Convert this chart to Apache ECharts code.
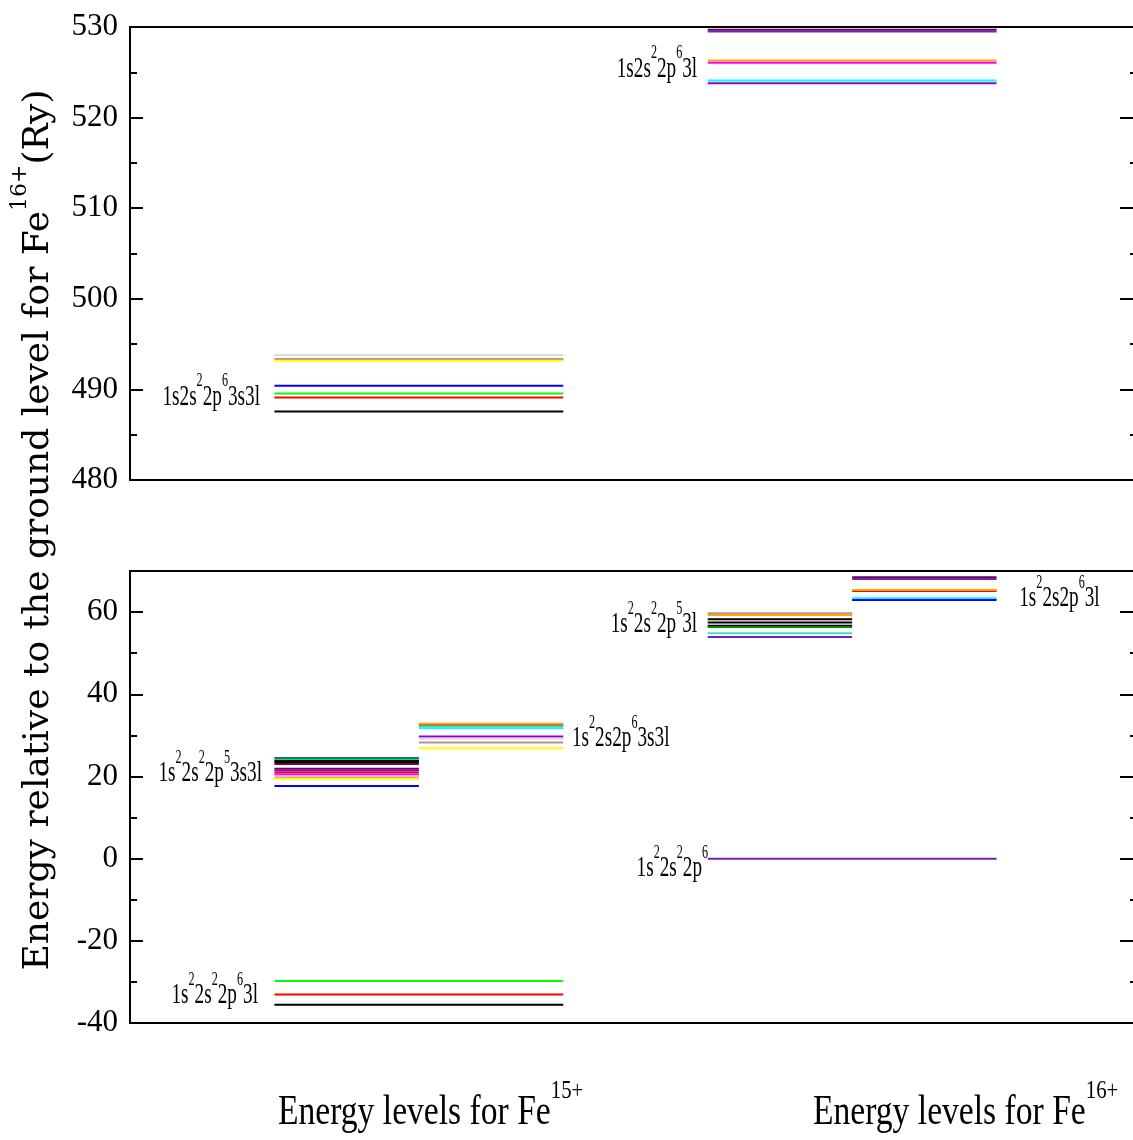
<!DOCTYPE html>
<html><head><meta charset="utf-8">
<script src="https://cdn.jsdelivr.net/npm/echarts@6/dist/echarts.min.js"></script>
<style>html,body{margin:0;padding:0;background:#fff;overflow:hidden}#chart{width:1160px;height:1140px}</style>
</head><body><div id="chart"></div>
<script>
// ---------------- DATA (energies in Ry, relative to Fe16+ ground level) ----------------
// Fe15+ configurations
const fe15_1s2s2_2p6_3s3l = [493.8, 493.35, 493.15, 490.4, 489.55, 489.1, 487.55];
const fe15_1s2_2s2_2p5_3s3l = [24.4, 24.1, 23.75, 23.5, 23.05, 21.9, 21.45, 20.95, 20.5, 20.0, 19.7, 19.45, 17.7];
const fe15_1s2_2s_2p6_3s3l = [32.55, 32.85, 32.15, 31.8, 29.7, 29.15, 28.25, 26.85];
const fe15_1s2_2s2_2p6_3l = [-29.75, -33.05, -35.55];
// Fe16+ configurations
const fe16_1s2s2_2p6_3l = [529.7, 529.5, 526.3, 526.05, 524.1, 523.8];
const fe16_1s2_2s2_2p5_3l = [59.7, 59.3, 58.25, 57.45, 56.65, 56.35, 54.85, 53.95];
const fe16_1s2_2s_2p6_3l = [68.45, 68.05, 65.15, 65.35, 63.35, 62.95];
const fe16_1s2_2s2_2p6 = [0];

// configuration labels
const labelTexts = [
  '{b|1s2s}{s|2}{b|2p}{s|6}{b|3s3l}',
  '{b|1s}{s|2}{b|2s}{s|2}{b|2p}{s|5}{b|3s3l}',
  '{b|1s}{s|2}{b|2s2p}{s|6}{b|3s3l}',
  '{b|1s}{s|2}{b|2s}{s|2}{b|2p}{s|6}{b|3l}',
  '{b|1s2s}{s|2}{b|2p}{s|6}{b|3l}',
  '{b|1s}{s|2}{b|2s}{s|2}{b|2p}{s|5}{b|3l}',
  '{b|1s}{s|2}{b|2s2p}{s|6}{b|3l}',
  '{b|1s}{s|2}{b|2s}{s|2}{b|2p}{s|6}'
];
const labelEnergies = [489.2, 20.8, 29.3, -33.2, 525.4, 57.0, 63.3, -2.3];

// axis ticks
const topTicks = {min: 480, max: 530, interval: 10, minor: 5};
const bottomTicks = {min: -40, max: 70, interval: 20, minor: 10};

const yTitle = '{b|Energy relative to the ground level for Fe}{s|16+}{b|(Ry)}';
const xTitles = ['{b|Energy levels for Fe}{s|15+}', '{b|Energy levels for Fe}{s|16+}'];

// ---------------- STYLE / LAYOUT ----------------
const G = {black:'#000000', red:'#ff0000', green:'#00ff00', blue:'#0000ff', yellow:'#ffff00',
  brown:'#bc8f8f', grey:'#dcdcdc', violet:'#9400d3', cyan:'#00ffff', magenta:'#ff00ff',
  orange:'#ffa500', indigo:'#7221bc', maroon:'#670748', turquoise:'#40e0d0', green4:'#008b00'};

// x-axis spans (column layout): Fe15+ column 1..3, Fe16+ column 4..6
const groups = [
  {panel:0, span:[1,3], e:fe15_1s2s2_2p6_3s3l, c:['grey','brown','yellow','blue','green','red','black']},
  {panel:1, span:[1,2], e:fe15_1s2_2s2_2p5_3s3l, c:['blue','green','black','black','maroon','maroon','violet','red','magenta','grey','brown','yellow','blue']},
  {panel:1, span:[2,3], e:fe15_1s2_2s_2p6_3s3l, c:['red','orange','turquoise','cyan','violet','grey','brown','yellow']},
  {panel:1, span:[1,3], e:fe15_1s2_2s2_2p6_3l, c:['green','red','black']},
  {panel:0, span:[4,6], e:fe16_1s2s2_2p6_3l, c:['maroon','indigo','orange','magenta','cyan','violet']},
  {panel:1, span:[4,5], e:fe16_1s2_2s2_2p5_3l, c:['brown','orange','black','black','black','green4','turquoise','indigo']},
  {panel:1, span:[5,6], e:fe16_1s2_2s_2p6_3l, c:['maroon','indigo','red','orange','cyan','blue']},
  {panel:1, span:[4,6], e:fe16_1s2_2s2_2p6, c:['indigo']}
];
// label anchor x (axis units), alignment, panel
const labelLayout = [
  {x:0.90, align:'right', panel:0},
  {x:0.914, align:'right', panel:1},
  {x:3.06, align:'left', panel:1},
  {x:0.886, align:'right', panel:1},
  {x:3.927, align:'right', panel:0},
  {x:3.927, align:'right', panel:1},
  {x:6.157, align:'left', panel:1},
  {x:4.003, align:'right', panel:1}
];

function buildLevels(panel){
  const items = [], cols = [];
  groups.filter(g => g.panel === panel).forEach(g => {
    g.e.forEach((v, i) => { items.push([g.span[0], g.span[1], v]); cols.push(G[g.c[i]]); });
  });
  return {items, cols};
}
function buildLabels(panel){
  const items = [], meta = [];
  labelLayout.forEach((l, i) => {
    if (l.panel === panel) { items.push([l.x, labelEnergies[i]]); meta.push({text: labelTexts[i], align: l.align}); }
  });
  return {items, meta};
}

const FONT = 'Liberation Serif';
const labelRich = {
  b: {fontFamily: FONT, fontSize: 30, lineHeight: 50, fill: '#000', color: '#000'},
  s: {fontFamily: FONT, fontSize: 19, lineHeight: 19, verticalAlign: 'top', fill: '#000', color: '#000'}
};

function levelSeries(panel){
  const d = buildLevels(panel);
  return {
    type: 'custom', xAxisIndex: panel, yAxisIndex: panel * 4, data: d.items,
    encode: {x: [0, 1], y: 2}, silent: true, clip: false,
    renderItem: (params, api) => {
      const a = api.coord([api.value(0), api.value(2)]);
      const b = api.coord([api.value(1), api.value(2)]);
      return {type: 'line', shape: {x1: a[0], y1: a[1], x2: b[0], y2: b[1]},
        style: {stroke: d.cols[params.dataIndex], lineWidth: 2}};
    }
  };
}
function labelSeries(panel){
  const d = buildLabels(panel);
  return {
    type: 'custom', xAxisIndex: panel, yAxisIndex: panel * 4, data: d.items,
    encode: {x: 0, y: 1}, silent: true, clip: false,
    renderItem: (params, api) => {
      const p = api.coord([api.value(0), api.value(1)]);
      const m = d.meta[params.dataIndex];
      return {type: 'text', x: p[0], y: p[1], scaleX: 0.64,
        style: {text: m.text, align: m.align, verticalAlign: 'middle', rich: labelRich, fill: '#000'}};
    }
  };
}

function yAxes(grid, t){
  const base = {type: 'value', gridIndex: grid, min: t.min, max: t.max,
    splitLine: {show: false}, axisLine: {show: false}, minorTick: {show: false}};
  const tick = (len) => ({show: true, inside: true, length: len, lineStyle: {color: '#000', width: 2}});
  return [
    Object.assign({}, base, {position: 'left', interval: t.interval, axisTick: tick(13),
      axisLabel: {show: true, margin: 12, color: '#000', fontFamily: FONT, fontSize: 31, showMaxLabel: t.max % t.interval === 0}}),
    Object.assign({}, base, {position: 'left', interval: t.minor, axisTick: tick(7), axisLabel: {show: false}}),
    Object.assign({}, base, {position: 'right', interval: t.interval, axisTick: tick(21), axisLabel: {show: false}}),
    Object.assign({}, base, {position: 'right', interval: t.minor, axisTick: tick(11), axisLabel: {show: false}})
  ];
}

const xAxisCommon = {type: 'value', min: 0, max: 7, axisLine: {show: false}, axisTick: {show: false},
  axisLabel: {show: false}, splitLine: {show: false}};

const gridCommon = {left: 130, width: 1011, show: true, borderColor: '#000', borderWidth: 2, backgroundColor: 'transparent'};

const titleRich = (size, supSize, lh) => ({
  b: {fontFamily: FONT, fontSize: size, lineHeight: lh, fill: '#000', color: '#000'},
  s: {fontFamily: FONT, fontSize: supSize, lineHeight: supSize, verticalAlign: 'top', fill: '#000', color: '#000'}
});

const chart = echarts.init(document.getElementById('chart'), null, {renderer: 'canvas'});
chart.setOption({
  animation: false,
  backgroundColor: '#fff',
  grid: [
    Object.assign({}, gridCommon, {top: 27, height: 453}),
    Object.assign({}, gridCommon, {top: 571, height: 452})
  ],
  xAxis: [Object.assign({gridIndex: 0}, xAxisCommon), Object.assign({gridIndex: 1}, xAxisCommon)],
  yAxis: yAxes(0, topTicks).concat(yAxes(1, bottomTicks)),
  series: [levelSeries(0), levelSeries(1), labelSeries(0), labelSeries(1)],
  graphic: [
    {type: 'text', x: 39, y: 530, rotation: Math.PI / 2, silent: true,
      style: {text: yTitle, align: 'center', verticalAlign: 'middle', fill: '#000',
        rich: {
          b: {fontFamily: 'DejaVu Serif', fontSize: 36, lineHeight: 60, fill: '#000', color: '#000'},
          s: {fontFamily: 'DejaVu Serif', fontSize: 22, lineHeight: 22, verticalAlign: 'top', fill: '#000', color: '#000'}
        }}},
    {type: 'text', x: 278, y: 1113, scaleX: 0.8, silent: true,
      style: {text: xTitles[0], align: 'left', verticalAlign: 'middle', fill: '#000', rich: titleRich(42, 26, 70)}},
    {type: 'text', x: 813, y: 1113, scaleX: 0.8, silent: true,
      style: {text: xTitles[1], align: 'left', verticalAlign: 'middle', fill: '#000', rich: titleRich(42, 26, 70)}}
  ]
});
</script></body></html>
